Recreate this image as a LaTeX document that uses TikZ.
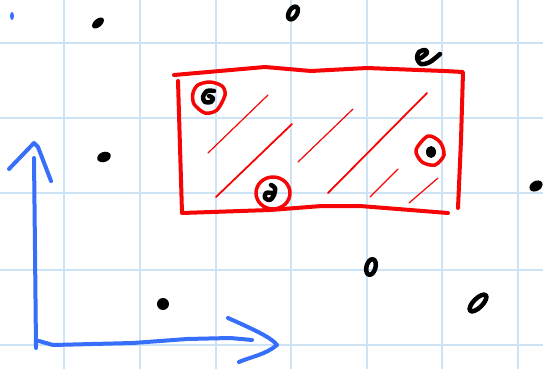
\documentclass[tikz,border=0pt]{standalone}
\begin{document}
\begin{tikzpicture}[x=1pt,y=-1pt,
  gridline/.style={draw=gridblue,line width=2pt},
  blueink/.style={draw=inkblue,line width=4pt,line cap=round,line join=round},
  redink/.style={draw=inkred,line width=4pt,line cap=round,line join=round},
  redcircle/.style={draw=inkred,line width=3.5pt,line cap=round,line join=round},
  hatch/.style={draw=inkred,line width=1.2pt,line cap=round},
  hatchthick/.style={draw=inkred,line width=1.8pt,line cap=round},
  blackink/.style={draw=black,line width=4.5pt,line cap=round,line join=round}]
\definecolor{gridblue}{RGB}{204,228,245}
\definecolor{inkblue}{RGB}{55,110,250}
\definecolor{inkred}{RGB}{245,5,5}
\useasboundingbox[fill=white] (0,0) rectangle (543,369);
% grid
\foreach \gx in {64,140,216,291,367,442,518} \draw[gridline] (\gx,0) -- (\gx,369);
\foreach \gy in {43,118,193,270,345} \draw[gridline] (0,\gy) -- (543,\gy);
% blue axes
\draw[blueink] (34,158) -- (35,250) -- (36,348);
\draw[blueink] (9,169) -- (34,143) -- (38,147) -- (51,181);
\draw[blueink] (39,341) -- (53,345) -- (133,343) -- (187,339) -- (230,338) -- (252,340);
\draw[blueink] (228,318) .. controls (255,330) and (272,338) .. (277,345) .. controls (265,355) and (250,357) .. (239,362);
\fill[inkblue] (12,16) ellipse (2 and 4);
% red rectangle
\draw[redink] (174,75) -- (265,67) -- (311,71) -- (367,68) -- (444,71) -- (463,72) -- (461,140) -- (458,208);
\draw[redink] (178,81) -- (182,213) -- (270,210) -- (322,206) -- (360,206) -- (448,213);
% hatching
\draw[hatch] (208,153) -- (268,95);
\draw[hatchthick] (216,197) -- (292,124);
\draw[hatch] (298,162) -- (353,109);
\draw[hatchthick] (328,193) -- (427,93);
\draw[hatch] (370,197) -- (398,169);
\draw[hatch] (409,203) -- (438,178);
% red circles
\draw[redcircle] plot[smooth cycle] coordinates {(198,85) (210,82) (222,86) (225,95) (217,110) (205,113) (194,104) (193,93)};
\draw[redcircle] (273,193) ellipse (17 and 16);
\draw[redcircle] plot[smooth cycle] coordinates {(428,136) (440,142) (444,155) (435,165) (422,162) (416,150)};
% glyphs inside circles
\draw[blackink] plot[smooth] coordinates {(214,91) (207,91) (203,97) (205,102) (211,102) (213,98) (209,96)};
\draw[blackink] plot[smooth] coordinates {(271,185) (275,188) (274,195) (270,200) (265,198) (266,193) (272,193)};
\fill[black] (431,152) ellipse (5 and 6);
% black marks
\fill[black,rotate around={40:(98,23)}] (98,23) ellipse (7 and 4);
\fill[black,rotate around={20:(104,157)}] (104,157) ellipse (7 and 5);
\fill[black,rotate around={45:(163,304)}] (163,304) ellipse (6 and 6);
\fill[black,rotate around={30:(536,186)}] (536,186) ellipse (7 and 5);
\draw[blackink,rotate around={60:(293,13)}] (293,13) ellipse (7 and 4);
\draw[blackink,rotate around={75:(371,267)}] (371,267) ellipse (8 and 4.5);
\draw[blackink,rotate around={45:(478,303)}] (478,303) ellipse (11 and 4.5);
\draw[blackink] plot[smooth] coordinates {(421,58) (427,53) (425,50) (419,52) (417,58) (421,64) (430,62) (440,54)};
\end{tikzpicture}
\end{document}
